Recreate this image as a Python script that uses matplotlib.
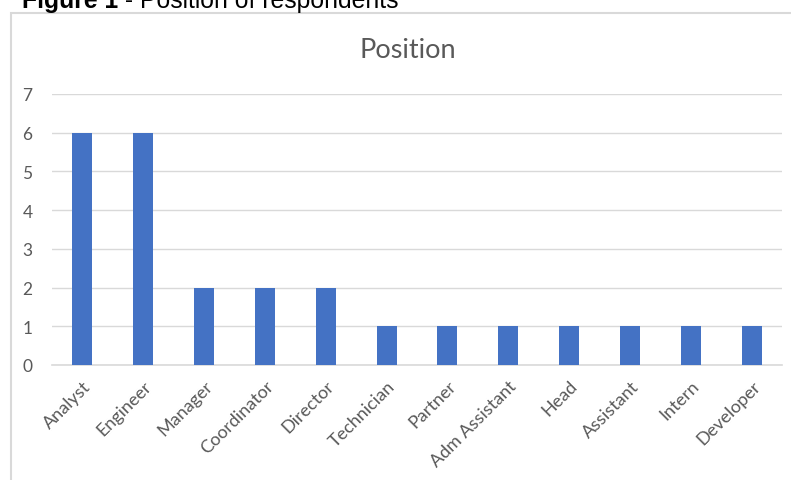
import matplotlib
matplotlib.use("Agg")
import matplotlib.pyplot as plt
import matplotlib.transforms as mtransforms
from matplotlib.patches import Rectangle

W, H, DPI = 791, 481, 100

positions = ["Analyst", "Engineer", "Manager", "Coordinator", "Director",
             "Technician", "Partner", "Adm Assistant", "Head", "Assistant",
             "Intern", "Developer"]
counts = [6, 6, 2, 2, 2, 1, 1, 1, 1, 1, 1, 1]
y_ticks = [0, 1, 2, 3, 4, 5, 6, 7]

BAR = "#4472C4"
GRID = "#d9d9d9"
TXT = "#595959"
FONT = "Lato"

fig = plt.figure(figsize=(W / DPI, H / DPI), dpi=DPI)
fig.patch.set_facecolor("white")

# chart frame (runs off the right and bottom edge in the source)
fig.patches.append(Rectangle((11 / W, -0.1), 1.2, 1 - 14 / H + 0.1,
                             transform=fig.transFigure, fill=False,
                             edgecolor=GRID, linewidth=1.5, clip_on=False))

# caption, partly cut off at the top like the source
cap1 = fig.text(22 / W, 1 - 8 / H, "Figure 1", fontsize=17.8,
                fontweight="bold", family="Liberation Sans", ha="left",
                va="baseline", color="black")
r = fig.canvas.get_renderer()
bb = cap1.get_window_extent(r)
fig.text(bb.x1 / W, 1 - 8 / H, " - Position of respondents", fontsize=17.8,
         family="Liberation Sans", ha="left", va="baseline", color="black")

ax = fig.add_axes([52 / W, 1 - 366 / H, (782 - 52) / W, (366 - 95) / H])
ax.bar(range(len(positions)), counts, width=0.33, color=BAR, zorder=3)
ax.set_xlim(-0.5, len(positions) - 0.5)
ax.set_ylim(0, 7)
ax.set_yticks(y_ticks)
ax.set_yticklabels([str(t) for t in y_ticks], fontsize=12.5, color=TXT,
                   family=FONT)
ax.set_xticks(range(len(positions)))
ax.set_xticklabels(positions, rotation=45, ha="right", va="center",
                   rotation_mode="anchor", fontsize=13, color=TXT,
                   family=FONT)
ax.tick_params(axis="both", length=0)
ax.tick_params(axis="y", pad=14)
ax.tick_params(axis="x", pad=13)
# nudge rotated labels a little right, as in the source
shift = mtransforms.ScaledTranslation(6 / DPI, 0, fig.dpi_scale_trans)
for lbl in ax.get_xticklabels():
    lbl.set_transform(lbl.get_transform() + shift)
ax.grid(axis="y", color=GRID, linewidth=1, zorder=0)
for s in ("top", "right", "left"):
    ax.spines[s].set_visible(False)
ax.spines["bottom"].set_color(GRID)
ax.spines["bottom"].set_linewidth(1.2)

fig.text(408 / W, 1 - 50 / H, "Position", fontsize=19.5, color=TXT,
         family=FONT, ha="center", va="center")

fig.savefig("out.png", dpi=DPI, facecolor="white")
